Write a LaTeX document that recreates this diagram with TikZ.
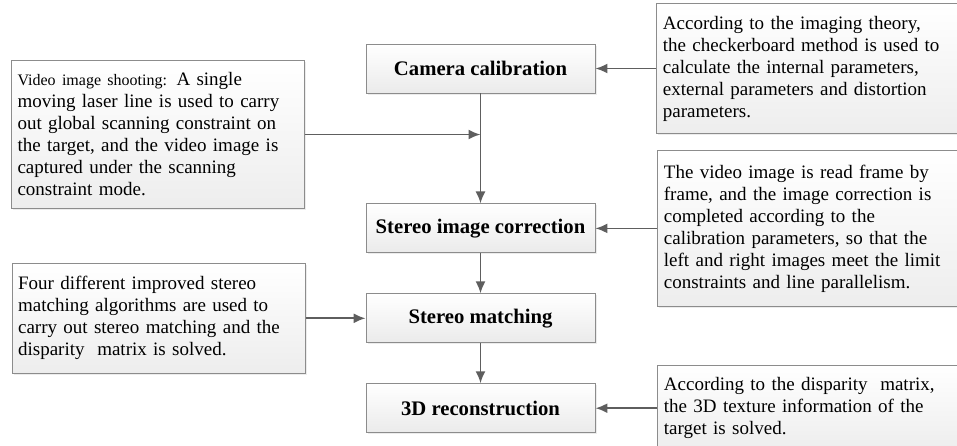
\documentclass[tikz,border=0pt]{standalone}
\usepackage{fontspec}
\setmainfont{Liberation Serif}
\usepackage{tikz}
\usetikzlibrary{shapes.geometric, arrows.meta, positioning, shadows}
\definecolor{boxline}{HTML}{8C8C8C}
\definecolor{arrowgray}{HTML}{5E5E5E}
\tikzstyle{stage} = [rectangle, minimum width=229pt, minimum height=49pt, text centered, draw=boxline, line width=0.9pt, top color=white, bottom color=gray!16, drop shadow={opacity=0.15, shadow xshift=1.5pt, shadow yshift=-1.5pt}, font=\fontsize{20.7}{24}\selectfont\bfseries]
\tikzstyle{note} = [rectangle, align=left, inner xsep=6pt, inner ysep=12pt, draw=boxline, line width=0.9pt, top color=white, bottom color=gray!14, drop shadow={opacity=0.15, shadow xshift=1.5pt, shadow yshift=-1.5pt}, font=\fontsize{19}{22}\selectfont]
\tikzstyle{arrow} = [line width=1.8pt, draw=arrowgray, -{Latex[length=12pt,width=10pt]}]

\begin{document}
\begin{tikzpicture}[x=1pt, y=-1pt, node distance=40pt]
    \useasboundingbox (0,0) rectangle (957,445);
    \clip (0,0) rectangle (957,445);

    % Main stages
    \node (camera) [stage] at (480.5,68.5) {Camera calibration};
    \node (correct) [stage, below=110pt of camera] {Stereo image correction};
    \node (match) [stage, below=of correct] {Stereo matching};
    \node (recon) [stage, below=of match] {3D reconstruction};

    % Notes on the right
    \node (calibnote) [note, text width=300pt, right=61pt of camera] {According to the imaging theory,\\the checkerboard method is used to\\calculate the internal parameters,\\external parameters and distortion\\parameters.};
    \node (correctnote) [note, text width=300pt, right=62pt of correct, inner ysep=14pt] {The video image is read frame by\\frame, and the image correction is\\completed according to the\\calibration parameters, so that the\\left and right images meet the limit\\constraints and line parallelism.};
    \node (reconnote) [note, text width=300pt, right=62pt of recon] {According to the disparity\ \ matrix,\\the 3D texture information of the\\target is solved.};

    % Notes on the left
    \node (videonote) [note, text width=281pt, anchor=east] at (305,134.5) {{\fontsize{16}{22}\selectfont Video image shooting:} A single\\moving laser line is used to carry\\out global scanning constraint on\\the target, and the video image is\\captured under the scanning\\constraint mode.};
    \node (matchnote) [note, text width=281pt, left=60pt of match, inner ysep=13pt] {Four different improved stereo\\matching algorithms are used to\\carry out stereo matching and the\\disparity\ \ matrix is solved.};

    % Arrows
    \draw [arrow] (camera) -- (correct);
    \draw [arrow] (videonote) -- (videonote -| camera.south);
    \draw [arrow] (correct) -- (match);
    \draw [arrow] (match) -- (recon);
    \draw [arrow] (calibnote) -- (camera);
    \draw [arrow] (correctnote) -- (correct);
    \draw [arrow] (matchnote) -- (match);
    \draw [arrow] (reconnote) -- (recon);
\end{tikzpicture}
\end{document}
